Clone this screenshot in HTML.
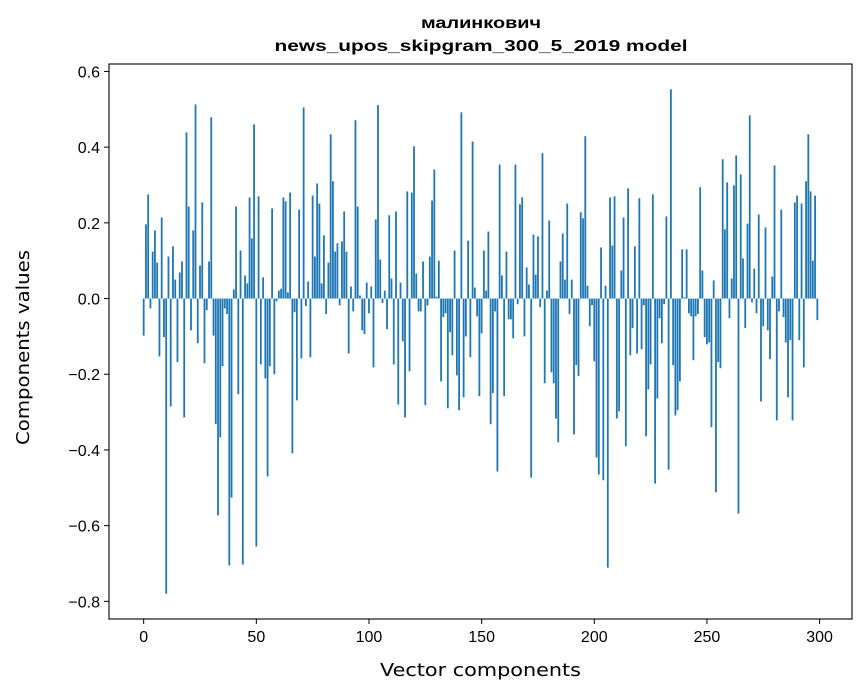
<!DOCTYPE html>
<html><head><meta charset="utf-8"><style>
html,body{margin:0;padding:0;background:#fff;}
svg{display:block;font-family:"Liberation Sans","DejaVu Sans",sans-serif;}
</style></head><body>
<svg id="chart" width="867" height="696" viewBox="0 0 867 696" xmlns="http://www.w3.org/2000/svg">
<text x="481" y="28" text-anchor="middle" font-size="16" font-weight="bold" textLength="120" lengthAdjust="spacingAndGlyphs">малинкович</text>
<text x="481" y="51" text-anchor="middle" font-size="16" font-weight="bold" textLength="413" lengthAdjust="spacingAndGlyphs">news_upos_skipgram_300_5_2019 model</text>
<g id="bars"></g>
<g id="axes"></g>
<text x="480.5" y="676" text-anchor="middle" font-size="18" font-family="DejaVu Sans, sans-serif" textLength="201" lengthAdjust="spacingAndGlyphs">Vector components</text>
<text transform="translate(29,347.5) rotate(-90)" text-anchor="middle" font-size="18" font-family="DejaVu Sans, sans-serif" textLength="195" lengthAdjust="spacingAndGlyphs">Components values</text>
</svg>
<script>
const values = [
-0.098,0.196,0.275,-0.026,0.124,0.18,0.095,-0.153,0.214,-0.102,
-0.78,0.111,-0.285,0.138,0.05,-0.168,0.069,0.098,-0.314,0.439,
0.243,-0.084,0.18,0.513,-0.118,0.087,0.254,-0.171,-0.031,0.098,
0.479,-0.098,-0.332,-0.573,-0.367,-0.179,-0.026,-0.041,-0.705,-0.526,
0.024,0.243,-0.253,0.127,-0.703,0.061,0.04,0.267,0.159,0.46,
-0.655,0.27,-0.174,0.056,-0.211,-0.47,-0.179,0.238,-0.2,-0.007,
0.021,0.026,0.267,0.257,0.016,0.28,-0.409,-0.036,-0.269,0.235,
-0.158,0.505,-0.02,0.045,-0.155,0.272,0.111,0.304,0.251,0.04,
0.167,-0.041,0.095,0.434,0.31,0.124,0.146,-0.018,0.151,0.23,
0.124,-0.145,0.032,-0.034,0.471,0.243,0.008,-0.084,-0.094,0.042,
-0.039,0.032,-0.182,0.209,0.511,0.103,-0.012,0.021,-0.081,0.22,
0.053,-0.174,0.23,-0.28,0.042,-0.113,-0.314,0.283,-0.192,0.28,
0.402,0.066,-0.034,-0.034,0.098,-0.282,-0.018,0.111,0.259,0.341,
0.005,0.1,-0.219,-0.049,-0.039,-0.29,-0.089,-0.15,0.127,-0.203,
-0.295,0.492,-0.261,-0.1,0.153,-0.155,0.415,0.029,-0.047,-0.258,
-0.092,0.127,0.021,0.177,-0.332,-0.25,-0.034,-0.457,0.354,0.061,
-0.258,0.124,-0.055,-0.055,-0.105,0.354,-0.015,0.249,0.267,-0.1,
0.082,0.037,-0.473,0.169,0.063,0.164,-0.023,0.384,-0.224,0.021,
0.206,-0.195,-0.224,-0.317,-0.38,0.098,0.172,0.05,0.251,-0.041,
0.05,-0.359,-0.176,-0.205,0.228,0.212,0.429,0.034,-0.073,-0.018,
-0.166,-0.42,-0.465,0.135,-0.48,0.034,-0.711,0.267,0.14,0.27,
-0.317,-0.298,0.074,0.214,-0.39,0.291,-0.15,-0.078,0.138,-0.145,
0.265,-0.134,-0.018,-0.364,-0.24,-0.174,0.275,-0.489,-0.264,-0.052,
-0.118,-0.015,0.217,-0.452,0.553,-0.176,-0.309,-0.295,-0.219,0.13,
0.003,0.13,-0.039,-0.047,-0.163,-0.047,-0.041,0.294,0.074,-0.102,
-0.121,-0.116,-0.34,0.048,-0.512,-0.168,-0.184,0.368,0.183,0.307,
-0.052,0.053,0.299,0.378,-0.568,0.328,0.106,-0.078,0.198,0.484,
-0.01,0.079,-0.039,0.222,-0.272,-0.073,0.188,-0.084,-0.16,0.058,
0.352,-0.322,-0.034,0.235,-0.049,-0.116,-0.261,-0.11,-0.322,0.254,
0.272,-0.11,0.251,-0.182,0.31,0.434,0.283,0.1,0.272,-0.057
];
const xTicks = [0,50,100,150,200,250,300];
const yTicks = [-0.8,-0.6,-0.4,-0.2,0.0,0.2,0.4,0.6];
const xTickLabels = ["0","50","100","150","200","250","300"];
const yTickLabels = ["\u22120.8","\u22120.6","\u22120.4","\u22120.2","0.0","0.2","0.4","0.6"];

const L=109,R=852,T=64,B=619;
const NS="http://www.w3.org/2000/svg";
const n=values.length;
const xmin=-0.4-0.05*(n-0.2), xmax=(n-1)+0.4+0.05*(n-0.2);
const vmin=Math.min(0,...values), vmax=Math.max(0,...values);
const pad=0.05*(vmax-vmin);
const ymin=vmin-pad, ymax=vmax+pad;
function xs(v){return L+(v-xmin)/(xmax-xmin)*(R-L);}
function ys(v){return B-(v-ymin)/(ymax-ymin)*(B-T);}
const bars=document.getElementById('bars');
const bw=0.8*(R-L)/(xmax-xmin);
values.forEach((v,i)=>{
  const r=document.createElementNS(NS,'rect');
  const y0=ys(0), y1=ys(v);
  r.setAttribute('x',xs(i)-bw/2);
  r.setAttribute('y',Math.min(y0,y1));
  r.setAttribute('width',bw);
  r.setAttribute('height',Math.max(0.3,Math.abs(y1-y0)));
  r.setAttribute('fill','#1f77b4');
  
  
  bars.appendChild(r);
});
const axes=document.getElementById('axes');
const frame=document.createElementNS(NS,'rect');
frame.setAttribute('x',L);frame.setAttribute('y',T);
frame.setAttribute('width',R-L);frame.setAttribute('height',B-T);
frame.setAttribute('fill','none');frame.setAttribute('stroke','#000');frame.setAttribute('stroke-width','1.1');


axes.appendChild(frame);
xTicks.forEach((t,i)=>{
  const x=xs(t);
  const l=document.createElementNS(NS,'line');
  l.setAttribute('x1',x);l.setAttribute('x2',x);l.setAttribute('y1',B);l.setAttribute('y2',B+5);
  l.setAttribute('stroke','#000');
  
  
  axes.appendChild(l);
  const tx=document.createElementNS(NS,'text');
  tx.setAttribute('x',x);tx.setAttribute('y',B+23);tx.setAttribute('text-anchor','middle');tx.setAttribute('font-size','16');
  tx.textContent=xTickLabels[i];
  
  
  axes.appendChild(tx);
});
yTicks.forEach((t,i)=>{
  const y=ys(t);
  const l=document.createElementNS(NS,'line');
  l.setAttribute('x1',L-5);l.setAttribute('x2',L);l.setAttribute('y1',y);l.setAttribute('y2',y);
  l.setAttribute('stroke','#000');
  
  
  axes.appendChild(l);
  const tx=document.createElementNS(NS,'text');
  tx.setAttribute('x',L-9);tx.setAttribute('y',y+6);tx.setAttribute('text-anchor','end');tx.setAttribute('font-size','16');
  tx.textContent=yTickLabels[i];
  
  
  axes.appendChild(tx);
});
</script>
</body></html>
